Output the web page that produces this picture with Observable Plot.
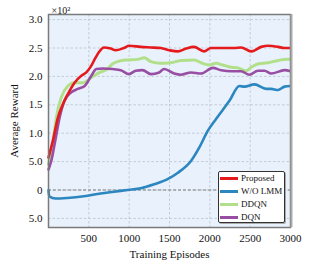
<!DOCTYPE html>
<html><head><meta charset="utf-8">
<script src="https://cdn.jsdelivr.net/npm/d3@7"></script>
<script src="https://cdn.jsdelivr.net/npm/@observablehq/plot@0.6"></script>
<style>
body{margin:0;background:#fff;}
#wrap{position:relative;width:309px;height:265px;}
.legend{position:absolute;left:218px;top:171px;width:65px;height:50px;border:1px solid #333;border-radius:2px;background:#fff;box-shadow:1px 1px 0 #aaa;font-family:"Liberation Serif",serif;font-size:9px;color:#111;}
.row{position:absolute;left:0;height:13px;line-height:13px;white-space:nowrap;}
.sw{position:absolute;left:1px;top:5px;width:18px;height:3px;}
.lt{position:absolute;left:22px;top:0;}
</style></head><body><div id="wrap"></div>
<script>
const seriesNames = ["Proposed","W/O LMM","DDQN","DQN"];
const seriesColors = ["#e41a1c","#2c86c0","#b2df8a","#984ea3"];

const proposedEp = [0,53,116,178,240,323,407,469,531,580,626,688,771,833,933,1000,1144,1269,1393,1500,1604,1704,1803,1928,2015,2177,2300,2388,2512,2637,2724,2848,2923,3000];
const proposedVal = [57,86,127,151,169,189,201,207,219,232,243,251,249,246,250,254,252,251,250,246,244,249,252,244,250,250,250,251,244,252,254,252,250,250];

const wolmmEp = [0,8,87,233,439,647,812,979,1144,1310,1476,1600,1766,1870,1974,2077,2243,2367,2430,2554,2699,2761,2845,2927,3000];
const wolmmVal = [0,-11,-15,-14,-11,-6,-3,0,3,10,19,30,51,75,104,125,157,183,182,186,178,178,176,182,183];

const ddqnEp = [0,53,96,158,240,323,427,531,634,730,793,875,979,1104,1187,1269,1393,1517,1642,1807,1891,1994,2077,2160,2264,2347,2450,2512,2596,2720,2845,2969,3000];
const ddqnVal = [45,80,127,163,183,189,189,198,207,213,222,227,229,230,233,226,223,224,228,229,224,220,223,220,216,215,210,216,222,224,228,230,230];

const dqnEp = [0,34,75,137,199,282,364,448,531,593,675,793,896,999,1082,1166,1269,1372,1434,1559,1642,1766,1891,2036,2139,2264,2388,2491,2596,2678,2761,2927,3000];
const dqnVal = [36,51,80,127,157,172,178,183,201,213,214,213,211,204,210,211,204,207,213,205,203,207,205,215,211,209,209,203,210,210,205,211,209];

const xTicks = [500,1000,1500,2000,2500,3000];
const yTicks = [-50,0,50,100,150,200,250,300];
const yTickLabels = ["5.0","0","5.0","1.0","1.5","2.0","2.5","3.0"];
const yLabelMap = new Map(yTicks.map((t,i)=>[t,yTickLabels[i]]));

const toRows = (eps, vals, name) => eps.map((e,i)=>({episode:e, reward:vals[i], series:name}));
const allSeries = [
  toRows(proposedEp, proposedVal, seriesNames[0]),
  toRows(wolmmEp, wolmmVal, seriesNames[1]),
  toRows(ddqnEp, ddqnVal, seriesNames[2]),
  toRows(dqnEp, dqnVal, seriesNames[3])
];
const drawOrder = [1,2,3,0];

const chart = Plot.plot({
  width:309, height:265,
  marginLeft:48, marginRight:19, marginTop:14, marginBottom:38,
  style:{fontFamily:"Liberation Serif, serif", fontSize:"11px", background:"transparent", color:"#111"},
  x:{domain:[0,3000]},
  y:{domain:[-66,309]},
  marks:[
    Plot.frame({fill:"#e9f2fc"}),
    Plot.gridX(xTicks,{stroke:"#b9c2cc", strokeOpacity:1, strokeDasharray:"2.5,2", strokeWidth:0.8}),
    Plot.gridY(yTicks,{stroke:"#b9c2cc", strokeOpacity:1, strokeDasharray:"2.5,2", strokeWidth:0.8}),
    Plot.ruleY([0],{stroke:"#808080", strokeDasharray:"3,2", strokeWidth:1}),
    ...drawOrder.map(k => Plot.line(allSeries[k],{x:"episode", y:"reward", stroke:seriesColors[k], strokeWidth:k===2?3:2.6, curve:"monotone-x"})),
    Plot.frame({stroke:"#7a7a7a", strokeWidth:1.5}),
    Plot.ruleX([3000],{stroke:"#aaa", strokeWidth:2, dx:1}),
    Plot.axisX({ticks:xTicks, tickSize:0, tickPadding:7, tickFormat:d=>String(d), label:"Training Episodes", labelAnchor:"center", labelArrow:"none", labelOffset:30, fontSize:11}),
    Plot.axisY({ticks:yTicks, tickSize:0, tickPadding:6, tickFormat:d=>yLabelMap.get(d), label:"Average Reward", labelAnchor:"center", labelArrow:"none", labelOffset:38, fontSize:11}),
    Plot.text(["×10²"],{frameAnchor:"top-left", dx:3, dy:-8, textAnchor:"start", fontSize:10, fill:"#222"})
  ]
});
const wrap = document.getElementById("wrap");
wrap.appendChild(chart);

const leg = document.createElement("div");
leg.className = "legend";
seriesNames.forEach((n,i)=>{
  const r = document.createElement("div");
  r.className = "row";
  r.style.top = (-0.5 + i*13.2) + "px";
  r.innerHTML = `<span class="sw" style="background:${seriesColors[i]}"></span><span class="lt">${n}</span>`;
  leg.appendChild(r);
});
wrap.appendChild(leg);
</script></body></html>
